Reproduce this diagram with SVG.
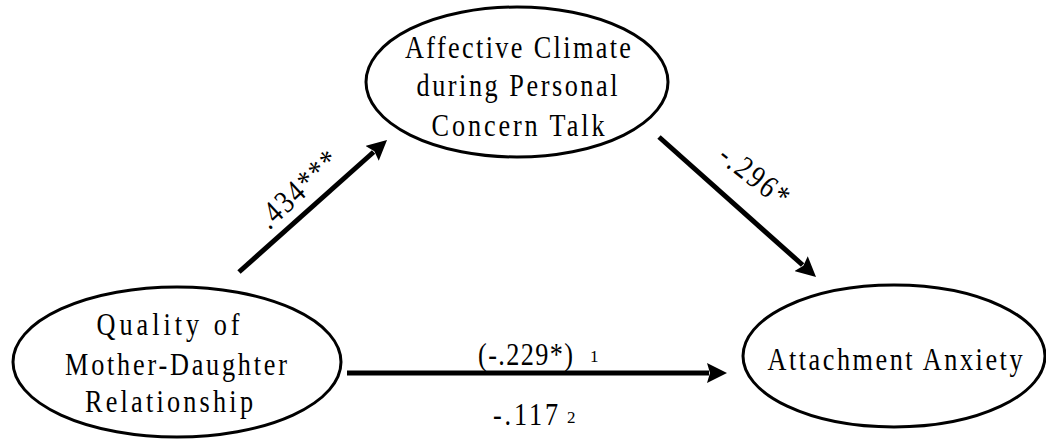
<svg xmlns="http://www.w3.org/2000/svg" width="1046" height="441" viewBox="0 0 1046 441">
<defs>
<marker id="ah" viewBox="0 0 20 20" refX="2" refY="10" markerWidth="20" markerHeight="20" markerUnits="userSpaceOnUse" orient="auto">
<path d="M0,0 L20,10 L0,20 L3,10 z" fill="#000"/>
</marker>
<style>
.node ellipse{fill:#fff;stroke:#000;stroke-width:3}
text{font-family:"Liberation Serif","Times New Roman",serif;font-size:32px;fill:#000;text-anchor:middle}
.edge{stroke:#000;stroke-width:5;fill:none;marker-end:url(#ah)}
.lbl{text-anchor:start}
.sup{font-size:17px;text-anchor:start}
</style>
</defs>
<rect width="1046" height="441" fill="#fff"/>
<g id="connectors">
<line class="edge" x1="239" y1="272" x2="373.6" y2="152"/>
<line class="edge" x1="659" y1="137" x2="802.6" y2="265"/>
<line class="edge" x1="347" y1="373" x2="709" y2="373"/>
<text transform="translate(305,197) rotate(-43) scale(0.82,1)" textLength="119.5" lengthAdjust="spacing">.434***</text>
<text transform="translate(748,184) rotate(38) scale(0.82,1)" textLength="97.6" lengthAdjust="spacing">-.296*</text>
<text class="lbl" transform="translate(478,365) scale(0.82,1)" textLength="115.9" lengthAdjust="spacing">(-.229*)</text>
<text class="sup" x="590" y="362">1</text>
<text class="lbl" transform="translate(493,425) scale(0.82,1)" textLength="79.3" lengthAdjust="spacing">-.117</text>
<text class="sup" x="567" y="423">2</text>
</g>
<g id="node-affective" class="node">
<ellipse cx="517" cy="82" rx="151" ry="75"/>
<text transform="translate(518,58) scale(0.82,1)" textLength="275.6" lengthAdjust="spacing">Affective Climate</text>
<text transform="translate(517,96) scale(0.82,1)" textLength="245.1" lengthAdjust="spacing">during Personal</text>
<text transform="translate(518,136) scale(0.82,1)" textLength="211" lengthAdjust="spacing">Concern Talk</text>
</g>
<g id="node-quality" class="node">
<ellipse cx="177" cy="362" rx="164" ry="75"/>
<text transform="translate(168,335) scale(0.82,1)" textLength="174.4" lengthAdjust="spacing">Quality of</text>
<text transform="translate(176,375) scale(0.82,1)" textLength="270.7" lengthAdjust="spacing">Mother-Daughter</text>
<text transform="translate(169,412) scale(0.82,1)" textLength="204.9" lengthAdjust="spacing">Relationship</text>
</g>
<g id="node-anxiety" class="node">
<ellipse cx="894" cy="356" rx="151" ry="71"/>
<text transform="translate(895,370) scale(0.82,1)" textLength="311" lengthAdjust="spacing">Attachment Anxiety</text>
</g>
</svg>
